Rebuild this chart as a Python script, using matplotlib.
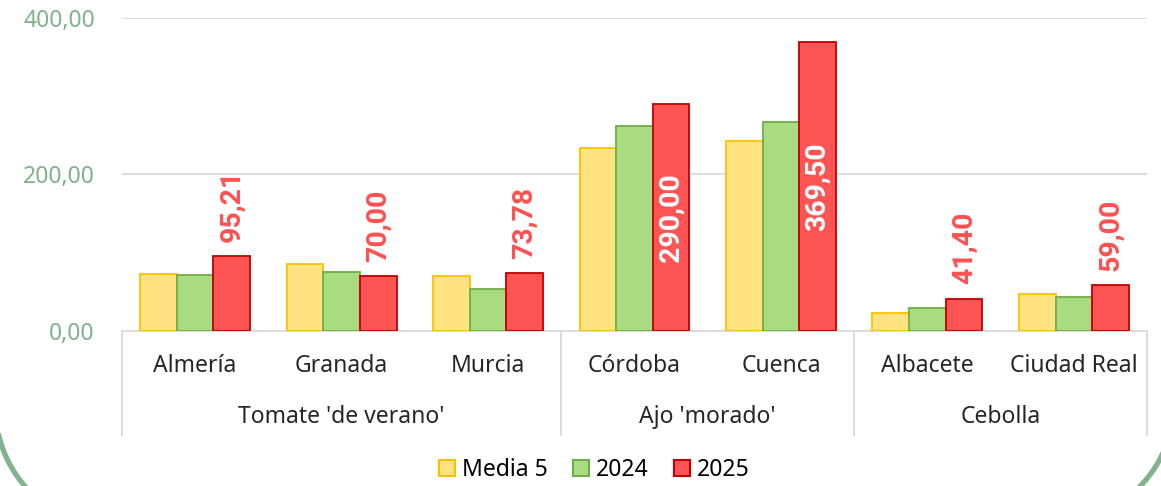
import matplotlib.pyplot as plt
import numpy as np
from matplotlib.patches import Patch
from matplotlib.transforms import blended_transform_factory

plt.rcParams["font.family"] = ["Noto Sans", "DejaVu Sans"]

provinces = ["Almería", "Granada", "Murcia", "Córdoba", "Cuenca", "Albacete", "Ciudad Real"]
groups = ["Tomate 'de verano'", "Ajo 'morado'", "Cebolla"]
group_sizes = [3, 2, 2]
media5 = [72.8, 85.6, 70.3, 233.9, 242.8, 23.0, 47.3]
y2024 = [71.6, 75.4, 53.7, 262.0, 267.0, 29.4, 43.5]
y2025 = [95.21, 70.00, 73.78, 290.00, 369.50, 41.40, 59.00]
series_names = ["Media 5", "2024", "2025"]
y_ticks = [0, 200, 400]

fills = ["#FFE380", "#A9DB80", "#FF5454"]
edges = ["#FFC000", "#70AD47", "#C00000"]


def fmt(v):
    return f"{v:,.2f}".replace(",", "X").replace(".", ",").replace("X", ".")


fig = plt.figure(figsize=(11.61, 4.86), dpi=100)

# rounded frame, only the bottom corners show
bg = fig.add_axes([0, 0, 1, 1])
bg.set_xlim(0, 1161)
bg.set_ylim(486, 0)
bg.axis("off")
t = np.linspace(np.pi / 2, np.pi, 60)
bg.plot(115.5 + 120 * np.cos(t), 407.5 + 120 * np.sin(t), color="#82B38F", lw=3.8)
t = np.linspace(0, np.pi / 2, 60)
bg.plot(1054 + 120 * np.cos(t), 402.7 + 120 * np.sin(t), color="#82B38F", lw=3.8)

ax = fig.add_axes([0.105, 0.319, 0.883, 0.644])

x = np.arange(len(provinces))
w = 0.25
for i, vals in enumerate([media5, y2024, y2025]):
    ax.bar(x + (i - 1) * w, vals, w, color=fills[i], edgecolor=edges[i],
           linewidth=1.3, zorder=3)

# data labels for 2025
lab_font = dict(family=["Roboto", "DejaVu Sans"], fontsize=20.5, fontweight="bold")
for xi, v in zip(x, y2025):
    if v > 200:
        ax.text(xi + w, v / 2, fmt(v), rotation=90, ha="center", va="center",
                color="white", zorder=4, **lab_font)
    else:
        ax.text(xi + w, v + 18, fmt(v), rotation=90, ha="center", va="bottom",
                color="#FF5050", zorder=4, **lab_font)

ax.set_xlim(-0.5, len(provinces) - 0.5)
ax.set_ylim(0, 400)
ax.set_yticks(y_ticks)
ax.set_yticklabels([fmt(t) for t in y_ticks], color="#7FB28A", fontsize=16.5)
ax.tick_params(axis="y", length=0, pad=19.5)
ax.set_xticks([])
ax.grid(axis="y", color="#D9D9D9", linewidth=1.3, zorder=0)
for s in ["left", "right", "top"]:
    ax.spines[s].set_visible(False)
ax.spines["bottom"].set_color("#D9D9D9")
ax.spines["bottom"].set_linewidth(1.3)

trans = blended_transform_factory(ax.transData, ax.transAxes)
for xi, name in zip(x, provinces):
    ax.text(xi, -0.112, name, transform=trans, ha="center", va="center",
            fontsize=16.5, color="#262626")

bounds = [-0.5]
for n in group_sizes:
    bounds.append(bounds[-1] + n)
for b in bounds:
    ax.plot([b, b], [0, -0.332], transform=trans, color="#D9D9D9",
            linewidth=1.3, clip_on=False)
for g, a, b in zip(groups, bounds[:-1], bounds[1:]):
    ax.text((a + b) / 2, -0.275, g, transform=trans, ha="center", va="center",
            fontsize=16.5, color="#262626")

handles = [Patch(facecolor=fills[i], edgecolor=edges[i], linewidth=1.5)
           for i in range(3)]
fig.legend(handles, series_names, loc="center", bbox_to_anchor=(0.512, 0.033),
           ncol=3, frameon=False, fontsize=16.5, handlelength=0.7, handleheight=0.7,
           handletextpad=0.3, columnspacing=1.1)

fig.savefig("out.png", dpi=100)
